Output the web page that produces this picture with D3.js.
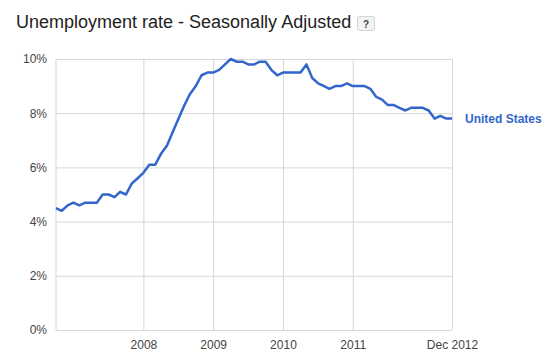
<!DOCTYPE html>
<html>
<head>
<meta charset="utf-8">
<script src="https://cdn.jsdelivr.net/npm/d3@7.9.0/dist/d3.min.js"></script>
<style>
  body { margin: 0; background: #fff; }
  svg { font-family: Arial, "Liberation Sans", sans-serif; }
</style>
</head>
<body>
<div id="chart"></div>
<script>
// monthly US unemployment rate, seasonally adjusted (%)
const months = [
  '2007-04','2007-05','2007-06','2007-07','2007-08','2007-09','2007-10','2007-11','2007-12',
  '2008-01','2008-02','2008-03','2008-04','2008-05','2008-06','2008-07','2008-08','2008-09','2008-10','2008-11','2008-12',
  '2009-01','2009-02','2009-03','2009-04','2009-05','2009-06','2009-07','2009-08','2009-09','2009-10','2009-11','2009-12',
  '2010-01','2010-02','2010-03','2010-04','2010-05','2010-06','2010-07','2010-08','2010-09','2010-10','2010-11','2010-12',
  '2011-01','2011-02','2011-03','2011-04','2011-05','2011-06','2011-07','2011-08','2011-09','2011-10','2011-11','2011-12',
  '2012-01','2012-02','2012-03','2012-04','2012-05','2012-06','2012-07','2012-08','2012-09','2012-10','2012-11','2012-12'
];
const rates = [
  4.5, 4.4, 4.6, 4.7, 4.6, 4.7, 4.7, 4.7, 5.0,
  5.0, 4.9, 5.1, 5.0, 5.4, 5.6, 5.8, 6.1, 6.1, 6.5, 6.8, 7.3,
  7.8, 8.3, 8.7, 9.0, 9.4, 9.5, 9.5, 9.6, 9.8, 10.0, 9.9, 9.9,
  9.8, 9.8, 9.9, 9.9, 9.6, 9.4, 9.5, 9.5, 9.5, 9.5, 9.8, 9.3,
  9.1, 9.0, 8.9, 9.0, 9.0, 9.1, 9.0, 9.0, 9.0, 8.9, 8.6, 8.5,
  8.3, 8.3, 8.2, 8.1, 8.2, 8.2, 8.2, 8.1, 7.8, 7.9, 7.8, 7.8
];
const seriesName = 'United States';

// x tick positions / labels as they appear on the chart
const xTickMonths = ['2008-07', '2009-07', '2010-07', '2011-07', '2012-12'];
const xTickLabels = ['2008', '2009', '2010', '2011', 'Dec 2012'];
const yTicks = [0, 2, 4, 6, 8, 10];

const parseMonth = d3.timeParse('%Y-%m');
const data = months.map((m, i) => ({ date: parseMonth(m), value: rates[i] }));

const width = 556, height = 360;
const margin = { top: 59, right: 104, bottom: 30, left: 56 };
const plotW = width - margin.left - margin.right;
const plotH = height - margin.top - margin.bottom;

const svg = d3.select('#chart')
  .append('svg')
  .attr('width', width)
  .attr('height', height);

// title + help button
svg.append('text')
  .attr('x', 16)
  .attr('y', 28)
  .attr('font-size', '18px')
  .attr('fill', '#222')
  .text('Unemployment rate - Seasonally Adjusted');

svg.append('rect')
  .attr('x', 357.5).attr('y', 16.5)
  .attr('width', 17).attr('height', 14)
  .attr('rx', 2)
  .attr('fill', '#f3f3f3')
  .attr('stroke', '#d4d4d4');
svg.append('text')
  .attr('x', 366).attr('y', 27.5)
  .attr('text-anchor', 'middle')
  .attr('font-size', '10px')
  .attr('font-weight', 'bold')
  .attr('fill', '#444')
  .text('?');

const g = svg.append('g')
  .attr('transform', `translate(${margin.left},${margin.top})`);

const x = d3.scaleTime()
  .domain(d3.extent(data, d => d.date))
  .range([0, plotW]);

const y = d3.scaleLinear()
  .domain([0, 10])
  .range([plotH, 0]);

// horizontal grid + y labels
const yAxis = g.append('g')
  .call(d3.axisLeft(y)
    .tickValues(yTicks)
    .tickSize(-plotW)
    .tickPadding(9)
    .tickFormat(d => d + '%'));

// vertical grid + x labels
const xAxis = g.append('g')
  .attr('transform', `translate(0,${plotH})`)
  .call(d3.axisBottom(x)
    .tickValues(xTickMonths.map(parseMonth))
    .tickSize(-plotH)
    .tickPadding(10)
    .tickFormat((d, i) => xTickLabels[i]));

[yAxis, xAxis].forEach(ax => {
  ax.select('.domain').remove();
  ax.selectAll('line').attr('stroke', '#d6d6d6');
  ax.selectAll('text')
    .attr('fill', '#444')
    .attr('font-size', '12px')
    .attr('font-family', 'Arial, "Liberation Sans", sans-serif');
});

// left border of the plot
g.append('line')
  .attr('x1', 0).attr('x2', 0)
  .attr('y1', 0).attr('y2', plotH)
  .attr('stroke', '#d6d6d6');

// the series
const line = d3.line()
  .x(d => x(d.date))
  .y(d => y(d.value));

g.append('path')
  .datum(data)
  .attr('fill', 'none')
  .attr('stroke', '#3366cc')
  .attr('stroke-width', 2.5)
  .attr('stroke-linejoin', 'round')
  .attr('d', line);

// series label at the end of the line
const last = data[data.length - 1];
g.append('text')
  .attr('x', x(last.date) + 13)
  .attr('y', y(last.value))
  .attr('dy', '0.35em')
  .attr('font-size', '12px')
  .attr('font-weight', 'bold')
  .attr('fill', '#3366cc')
  .text(seriesName);
</script>
</body>
</html>
